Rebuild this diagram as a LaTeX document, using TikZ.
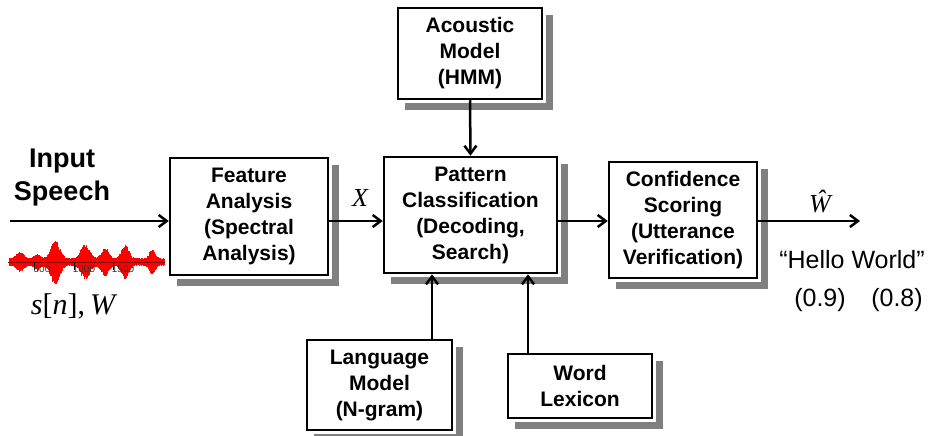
\documentclass[tikz,border=0pt]{standalone}
\usepackage{fontspec}
\setmainfont{Liberation Sans}
\newfontfamily\serifit{Liberation Serif}
\usetikzlibrary{arrows.meta}
\definecolor{shadowgray}{RGB}{128,128,128}
\begin{document}
\begin{tikzpicture}[x=1pt,y=-1pt,
  blk/.style={draw,line width=2.5pt,fill=white,align=center,inner sep=0pt,
    font=\fontsize{21}{26}\selectfont\bfseries},
  shline/.style={draw=shadowgray,line width=7pt,line cap=butt,line join=miter},
  arr/.style={line width=2.5pt,-{Straight Barb[length=8pt,width=12pt]}},
  lbl/.style={inner sep=0pt,font=\fontsize{25}{30}\selectfont},
  mth/.style={inner sep=0pt,font=\fontsize{26}{30}\selectfont\serifit}]
\fill[white] (0,0) rectangle (935,436);
\useasboundingbox (0,0) rectangle (935,436);

% boxes
\node[blk,minimum width=144pt,minimum height=91pt] (acoustic) at (470,53.5) {Acoustic\\Model\\(HMM)};
\node[blk,minimum width=158pt,minimum height=117pt] (feature) at (249,216.5) {Feature\\Analysis\\(Spectral\\Analysis)};
\node[blk,minimum width=173pt,minimum height=116pt] (pattern) at (470.5,215) {Pattern\\Classification\\(Decoding,\\Search)};
\node[blk,minimum width=148pt,minimum height=116pt] (confidence) at (683,220) {Confidence\\Scoring\\(Utterance\\Verification)};
\node[blk,minimum width=145pt,minimum height=90pt] (language) at (379.5,385) {Language\\Model\\(N-gram)};
\node[blk,minimum width=144pt,minimum height=64pt] (word) at (580,386) {Word\\Lexicon};

% shadows: 7px strips along the right and bottom sides of each box
\draw[shline] (549.75,15) -- (549.75,106.25) -- (405,106.25);
\draw[shline] (335.75,165) -- (335.75,282.25) -- (177,282.25);
\draw[shline] (564.75,164) -- (564.75,280.25) -- (391,280.25);
\draw[shline] (764.75,169) -- (764.75,285.25) -- (616,285.25);
\draw[shline] (459.75,347) -- (459.75,437.25) -- (314,437.25);
\draw[shline] (659.75,361) -- (659.75,425.25) -- (515,425.25);

% helper coordinates
\coordinate (lvl) at (0,221);
\coordinate (inst) at (10,221);
\coordinate (outend) at (860,221);
\coordinate (lmx) at (432,0);
\coordinate (wlx) at (528,0);

% connectors
\draw[arr] (inst) -- (feature.west |- lvl);
\draw[arr] (feature.east |- lvl) -- (pattern.west |- lvl);
\draw[arr] (pattern.east |- lvl) -- (confidence.west |- lvl);
\draw[arr] (confidence.east |- lvl) -- (outend);
\draw[arr] (acoustic.south) -- (pattern.north);
\draw[arr] (language.north -| lmx) -- (pattern.south -| lmx);
\draw[arr] (word.north -| wlx) -- (pattern.south -| wlx);

% labels
\node[inner sep=0pt,align=center,font=\fontsize{27}{33}\selectfont\bfseries] (input) at (62,178) {Input\\Speech};
\node[mth] (xlab) at (360,198) {\itshape X};
\node[mth] (what) at (820,202) {\itshape Ŵ};
\node[lbl] (hello) at (852,260) {“Hello World”};
\node[lbl] (p1) at (820,300) {(0.9)};
\node[lbl] (p2) at (897,300) {(0.8)};
\node[inner sep=0pt,font=\fontsize{30}{34}\selectfont\serifit] (snw) at (73,306) {\itshape s\upshape[\itshape n\upshape],\,\itshape W};

% waveform
\pgfmathsetseed{7}
\foreach \x in {9,9.5,...,164}{
  \pgfmathsetmacro\e{4+6*exp(-((\x-20)/5)^2)+5*exp(-((\x-37)/4)^2)+19*exp(-((\x-55)/6)^2)+14*exp(-((\x-85)/6)^2)+11*exp(-((\x-105)/5)^2)+14*exp(-((\x-125)/5)^2)+9*exp(-((\x-152)/4)^2)}
  \pgfmathsetmacro\u{\e*(0.75+0.25*rnd)}
  \pgfmathsetmacro\d{\e*(0.75+0.25*rnd)}
  \draw[red,line width=0.8pt] (\x,{262-\u}) -- (\x,{262+\d});
}
\coordinate (wl) at (8,262);
\coordinate (wr) at (165,262);
\draw[red!55!black,line width=1pt] (wl) -- (wr);
\foreach \t/\lab/\lx in {34/500/42,74/1000/84,113/1500/123}{
  \draw[black,line width=0.5pt] (\t,262) -- (\t,270);
  \node[inner sep=0pt,text=black!80,font=\fontsize{10}{11}\selectfont] at (\lx,269) {\lab};
}
\end{tikzpicture}
\end{document}
